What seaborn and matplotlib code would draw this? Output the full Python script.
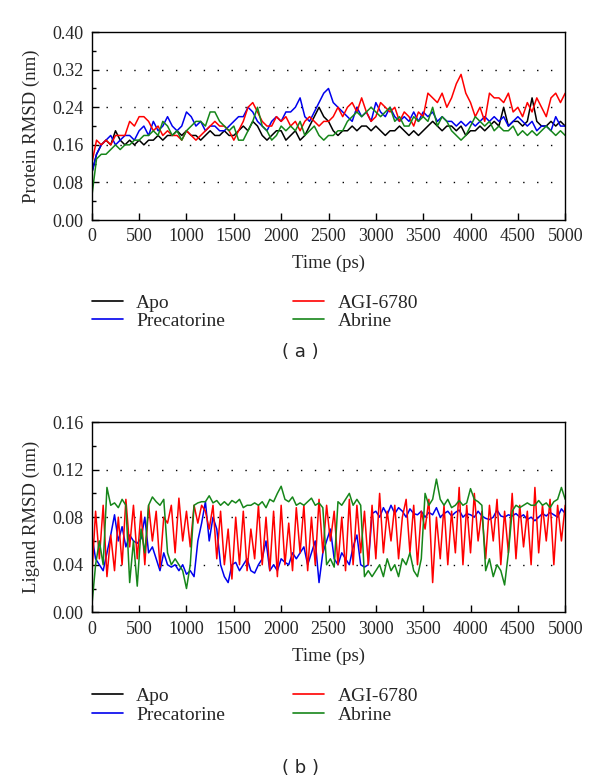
import numpy as np
import pandas as pd
import matplotlib
matplotlib.use("Agg")
import matplotlib.pyplot as plt
from matplotlib.ticker import MultipleLocator, FormatStrFormatter
import seaborn as sns

# ---- panel (a): protein RMSD, sampled every 50 ps ----
apo_a = [0.10, 0.14, 0.16, 0.17, 0.16, 0.19, 0.17, 0.16, 0.17, 0.16, 0.17, 0.16, 0.17, 0.17, 0.18,
         0.17, 0.18, 0.18, 0.19, 0.18, 0.19, 0.18, 0.18, 0.17, 0.18, 0.19, 0.18, 0.18, 0.19, 0.18,
         0.18, 0.19, 0.20, 0.19, 0.21, 0.20, 0.18, 0.17, 0.18, 0.19, 0.19, 0.17, 0.18, 0.19, 0.17,
         0.18, 0.20, 0.22, 0.24, 0.22, 0.21, 0.19, 0.18, 0.19, 0.19, 0.20, 0.19, 0.20, 0.20, 0.19,
         0.20, 0.19, 0.18, 0.19, 0.19, 0.20, 0.19, 0.18, 0.19, 0.18, 0.19, 0.20, 0.21, 0.20, 0.19,
         0.20, 0.20, 0.19, 0.20, 0.18, 0.19, 0.19, 0.20, 0.19, 0.20, 0.21, 0.20, 0.24, 0.20, 0.21,
         0.21, 0.20, 0.21, 0.26, 0.21, 0.20, 0.20, 0.21, 0.20, 0.21, 0.20]
agi_a = [0.12, 0.17, 0.16, 0.17, 0.16, 0.18, 0.18, 0.18, 0.21, 0.20, 0.22, 0.22, 0.21, 0.19, 0.20,
         0.18, 0.19, 0.18, 0.18, 0.17, 0.19, 0.18, 0.17, 0.18, 0.19, 0.20, 0.21, 0.20, 0.20, 0.19,
         0.17, 0.19, 0.21, 0.24, 0.25, 0.23, 0.21, 0.20, 0.20, 0.22, 0.21, 0.22, 0.20, 0.21, 0.19,
         0.21, 0.22, 0.21, 0.20, 0.21, 0.21, 0.22, 0.24, 0.22, 0.24, 0.25, 0.23, 0.26, 0.23, 0.21,
         0.22, 0.25, 0.24, 0.23, 0.24, 0.21, 0.23, 0.22, 0.20, 0.23, 0.22, 0.27, 0.26, 0.25, 0.27,
         0.24, 0.26, 0.29, 0.31, 0.27, 0.25, 0.22, 0.24, 0.21, 0.27, 0.26, 0.26, 0.25, 0.27, 0.23,
         0.24, 0.22, 0.25, 0.23, 0.26, 0.24, 0.22, 0.26, 0.27, 0.25, 0.27]
prec_a = [0.10, 0.14, 0.16, 0.17, 0.18, 0.16, 0.17, 0.18, 0.18, 0.17, 0.19, 0.20, 0.18, 0.21, 0.19,
          0.20, 0.22, 0.20, 0.19, 0.20, 0.23, 0.22, 0.20, 0.21, 0.19, 0.20, 0.20, 0.19, 0.19, 0.20,
          0.21, 0.22, 0.22, 0.24, 0.23, 0.21, 0.20, 0.19, 0.21, 0.22, 0.21, 0.23, 0.23, 0.24, 0.26,
          0.22, 0.21, 0.23, 0.25, 0.27, 0.28, 0.25, 0.24, 0.23, 0.22, 0.21, 0.24, 0.22, 0.23, 0.21,
          0.25, 0.23, 0.22, 0.24, 0.22, 0.21, 0.22, 0.21, 0.23, 0.21, 0.23, 0.22, 0.23, 0.21, 0.22,
          0.21, 0.21, 0.20, 0.21, 0.20, 0.21, 0.20, 0.21, 0.22, 0.21, 0.22, 0.21, 0.22, 0.20, 0.21,
          0.22, 0.21, 0.20, 0.21, 0.19, 0.20, 0.20, 0.19, 0.22, 0.20, 0.20]
abr_a = [0.05, 0.13, 0.14, 0.14, 0.15, 0.16, 0.15, 0.16, 0.16, 0.17, 0.17, 0.18, 0.18, 0.19, 0.18,
         0.21, 0.20, 0.18, 0.19, 0.17, 0.19, 0.20, 0.21, 0.21, 0.20, 0.23, 0.23, 0.21, 0.20, 0.19,
         0.20, 0.17, 0.17, 0.19, 0.21, 0.24, 0.20, 0.19, 0.17, 0.18, 0.20, 0.19, 0.20, 0.19, 0.21,
         0.18, 0.19, 0.20, 0.18, 0.17, 0.18, 0.18, 0.19, 0.19, 0.21, 0.22, 0.23, 0.22, 0.23, 0.24,
         0.23, 0.22, 0.23, 0.24, 0.21, 0.22, 0.20, 0.20, 0.22, 0.21, 0.22, 0.21, 0.24, 0.20, 0.22,
         0.21, 0.19, 0.18, 0.17, 0.18, 0.20, 0.22, 0.21, 0.20, 0.21, 0.19, 0.20, 0.19, 0.19, 0.20,
         0.18, 0.19, 0.18, 0.19, 0.18, 0.19, 0.20, 0.19, 0.18, 0.19, 0.18]

# ---- panel (b): ligand RMSD, sampled every 40 ps (no ligand for Apo) ----
agi_b = [0.03, 0.085, 0.045, 0.09, 0.03, 0.065, 0.035, 0.08, 0.04, 0.095, 0.055, 0.09, 0.045, 0.085,
         0.04, 0.09, 0.06, 0.085, 0.038, 0.08, 0.075, 0.09, 0.05, 0.096, 0.06, 0.085, 0.055, 0.09,
         0.075, 0.09, 0.085, 0.07, 0.09, 0.045, 0.085, 0.04, 0.07, 0.028, 0.08, 0.04, 0.085, 0.035,
         0.07, 0.045, 0.09, 0.04, 0.08, 0.035, 0.085, 0.03, 0.09, 0.04, 0.075, 0.035, 0.088, 0.05,
         0.09, 0.035, 0.08, 0.04, 0.095, 0.05, 0.09, 0.06, 0.085, 0.04, 0.08, 0.035, 0.095, 0.04,
         0.09, 0.05, 0.085, 0.04, 0.09, 0.045, 0.1, 0.05, 0.085, 0.06, 0.09, 0.045, 0.08, 0.095,
         0.05, 0.09, 0.04, 0.085, 0.07, 0.095, 0.025, 0.08, 0.045, 0.09, 0.04, 0.085, 0.05, 0.105,
         0.04, 0.09, 0.05, 0.1, 0.06, 0.085, 0.045, 0.09, 0.06, 0.095, 0.04, 0.085, 0.05, 0.1, 0.045,
         0.09, 0.055, 0.085, 0.04, 0.105, 0.05, 0.09, 0.06, 0.095, 0.04, 0.09, 0.06, 0.09]
prec_b = [0.065, 0.045, 0.04, 0.035, 0.05, 0.065, 0.082, 0.06, 0.072, 0.055, 0.065, 0.06, 0.058,
          0.062, 0.08, 0.05, 0.055, 0.045, 0.035, 0.05, 0.04, 0.038, 0.04, 0.035, 0.04, 0.032, 0.035,
          0.03, 0.06, 0.075, 0.093, 0.06, 0.08, 0.07, 0.04, 0.03, 0.025, 0.04, 0.042, 0.035, 0.04,
          0.045, 0.035, 0.033, 0.04, 0.045, 0.06, 0.035, 0.04, 0.035, 0.045, 0.042, 0.04, 0.05, 0.045,
          0.05, 0.055, 0.04, 0.05, 0.06, 0.025, 0.05, 0.06, 0.07, 0.045, 0.04, 0.05, 0.045, 0.04,
          0.055, 0.065, 0.04, 0.038, 0.04, 0.083, 0.085, 0.08, 0.088, 0.082, 0.09, 0.083, 0.088,
          0.085, 0.08, 0.087, 0.083, 0.082, 0.085, 0.08, 0.084, 0.082, 0.088, 0.08, 0.083, 0.085,
          0.081, 0.084, 0.086, 0.08, 0.083, 0.082, 0.08, 0.085, 0.081, 0.079, 0.078, 0.08, 0.086,
          0.081, 0.08, 0.082, 0.081, 0.083, 0.08, 0.082, 0.078, 0.08, 0.077, 0.08, 0.083, 0.081,
          0.084, 0.082, 0.08, 0.087, 0.083]
abr_b = [0.005, 0.04, 0.06, 0.04, 0.105, 0.09, 0.092, 0.088, 0.095, 0.09, 0.025, 0.06, 0.022, 0.07,
         0.05, 0.09, 0.097, 0.093, 0.09, 0.095, 0.05, 0.04, 0.045, 0.04, 0.035, 0.02, 0.04, 0.09,
         0.092, 0.093, 0.093, 0.098, 0.092, 0.094, 0.09, 0.093, 0.09, 0.094, 0.092, 0.095, 0.088,
         0.09, 0.09, 0.092, 0.09, 0.093, 0.088, 0.095, 0.093, 0.1, 0.106, 0.095, 0.093, 0.097, 0.09,
         0.092, 0.09, 0.093, 0.096, 0.09, 0.092, 0.088, 0.04, 0.045, 0.038, 0.093, 0.09, 0.095, 0.1,
         0.09, 0.095, 0.09, 0.03, 0.035, 0.03, 0.035, 0.04, 0.03, 0.045, 0.035, 0.04, 0.03, 0.045,
         0.04, 0.05, 0.035, 0.03, 0.045, 0.1, 0.09, 0.095, 0.112, 0.095, 0.09, 0.095, 0.088, 0.09,
         0.094, 0.09, 0.092, 0.104, 0.095, 0.093, 0.09, 0.035, 0.045, 0.03, 0.04, 0.035, 0.023, 0.05,
         0.085, 0.09, 0.088, 0.09, 0.092, 0.09, 0.09, 0.094, 0.09, 0.092, 0.088, 0.093, 0.095, 0.105,
         0.095]

labels = ["Apo", "Precatorine", "AGI-6780", "Abrine"]
colors = {"Apo": "#000000", "Precatorine": "#0000ee", "AGI-6780": "#ff0000", "Abrine": "#16861a"}


def to_frame(series):
    rows = []
    for name, vals in series.items():
        t = np.linspace(0, 5000, len(vals))
        rows.append(pd.DataFrame({"Time": t, "RMSD": vals, "Series": name}))
    return pd.concat(rows, ignore_index=True)


df_a = to_frame({"Apo": apo_a, "AGI-6780": agi_a, "Precatorine": prec_a, "Abrine": abr_a})
df_b = to_frame({"AGI-6780": agi_b, "Abrine": abr_b, "Precatorine": prec_b})

sns.set_style("ticks")
plt.rcParams["font.family"] = ["Liberation Serif", "DejaVu Serif"]

fig = plt.figure(figsize=(6, 7.83), dpi=100)
ax_a = fig.add_axes([0.153, 0.719, 0.789, 0.240])
ax_b = fig.add_axes([0.153, 0.218, 0.789, 0.243])


def style_axis(ax, ymax, ystep, ylabel):
    ax.set_xlim(0, 5000)
    ax.set_ylim(0, ymax)
    ax.xaxis.set_major_locator(MultipleLocator(500))
    ax.yaxis.set_major_locator(MultipleLocator(ystep))
    ax.yaxis.set_minor_locator(MultipleLocator(ystep / 2))
    ax.tick_params(axis="both", which="both", direction="in", top=False, right=False,
                   labelsize=13, width=1, color="black")
    ax.tick_params(axis="both", which="major", length=5, pad=6)
    ax.tick_params(axis="y", which="minor", length=3)
    ax.yaxis.set_major_formatter(FormatStrFormatter("%.2f"))
    for v in np.arange(ystep, ymax - ystep / 2, ystep):
        ax.axhline(v, xmin=0.03, xmax=0.98, color="black", lw=1,
                   linestyle=(0, (1, 9)), zorder=0)
    for s in ax.spines.values():
        s.set_linewidth(1)
        s.set_color("black")
    ax.set_xlabel("Time (ps)", fontsize=13.5, labelpad=7)
    ax.set_ylabel(ylabel, fontsize=13.5, labelpad=9)


for ax, df in [(ax_a, df_a), (ax_b, df_b)]:
    sns.lineplot(data=df, x="Time", y="RMSD", hue="Series", hue_order=labels,
                 palette=colors, lw=1.1, ax=ax, legend=False)

style_axis(ax_a, 0.40, 0.08, "Protein RMSD (nm)")
style_axis(ax_b, 0.16, 0.04, "Ligand RMSD (nm)")

handles = [plt.Line2D([], [], color=colors[n], lw=1.2) for n in labels]
for ax in (ax_a, ax_b):
    ax.legend(handles, labels, ncol=2, loc="center left", bbox_to_anchor=(-0.017, -0.49),
              frameon=False, fontsize=14, handlelength=1.6, handletextpad=0.7,
              columnspacing=3.5, labelspacing=0.05, borderaxespad=0)

fig.text(0.5, 1 - 352 / 783, "( a )", ha="center", va="center", fontsize=13,
         family="DejaVu Sans")
fig.text(0.5, 1 - 768 / 783, "( b )", ha="center", va="center", fontsize=13,
         family="DejaVu Sans")

fig.savefig("out.png", dpi=100)
